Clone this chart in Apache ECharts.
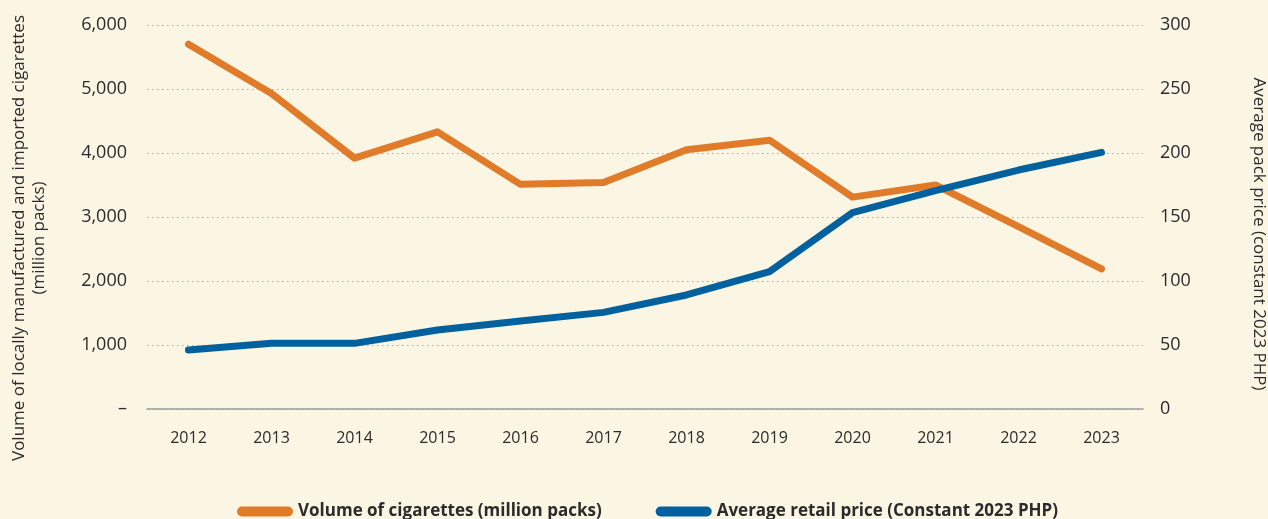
<!DOCTYPE html>
<html>
<head>
<meta charset="utf-8">
<script src="https://cdn.jsdelivr.net/npm/echarts@6/dist/echarts.min.js"></script>
<style>
  html, body { margin: 0; padding: 0; background: #FBF5E3; }
  #chart { width: 1268px; height: 519px; }
</style>
</head>
<body>
<div id="chart"></div>
<script>
// Years on the category axis
const years = ['2012', '2013', '2014', '2015', '2016', '2017', '2018', '2019', '2020', '2021', '2022', '2023'];
// Volume of locally manufactured and imported cigarettes (million packs)
const volume = [5700, 4930, 3920, 4330, 3510, 3540, 4050, 4200, 3310, 3500, 2850, 2190];
// Average retail pack price (constant 2023 PHP)
const price = [46.1, 51.3, 51.3, 61.7, 68.8, 75.5, 89.1, 107.3, 153.4, 170.6, 186.7, 200.5];

const volumeName = 'Volume of cigarettes (million packs)';
const priceName = 'Average retail price (Constant 2023 PHP)';
const leftTitle = 'Volume of locally manufactured and imported cigarettes\n(million packs)';
const rightTitle = 'Average pack price (constant 2023 PHP)';

const FONT = '"Open Sans", Lato, sans-serif';
const ORANGE = '#E07B2A';
const BLUE = '#00619E';
const TEXT = '#2b2b2b';
const pill = 'path://M5,0 H51 A5,5 0 0 1 51,10 H5 A5,5 0 0 1 5,0 Z';

const chart = echarts.init(document.getElementById('chart'), null, { renderer: 'canvas' });

chart.setOption({
  backgroundColor: '#FBF5E3',
  animation: false,
  textStyle: { fontFamily: FONT },
  grid: { left: 147, right: 125, top: 25, bottom: 110, containLabel: false },
  legend: {
    left: 232,
    top: 498,
    itemWidth: 56,
    itemHeight: 10,
    itemGap: 54,
    textStyle: { fontFamily: FONT, fontSize: 17, fontWeight: 'bold', color: TEXT },
    data: [
      { name: volumeName, icon: pill, itemStyle: { color: ORANGE } },
      { name: priceName, icon: pill, itemStyle: { color: BLUE } }
    ]
  },
  xAxis: {
    type: 'category',
    data: years,
    boundaryGap: true,
    axisLine: { show: true, lineStyle: { color: '#9a9a9a', width: 1.5 } },
    axisTick: { show: false },
    axisLabel: { color: TEXT, fontSize: 16, margin: 21, fontFamily: FONT }
  },
  yAxis: [
    {
      type: 'value',
      min: 0, max: 6000, interval: 1000,
      axisLine: { show: false },
      axisTick: { show: false },
      axisLabel: {
        color: TEXT, fontSize: 18, margin: 20, fontFamily: FONT,
        formatter: v => v === 0 ? '–' : v.toLocaleString('en-US')
      },
      splitLine: { show: true, lineStyle: { color: '#a8a8a8', type: [1.5, 3.5], width: 1 } }
    },
    {
      type: 'value',
      position: 'right',
      min: 0, max: 300, interval: 50,
      axisLine: { show: false },
      axisTick: { show: false },
      axisLabel: { color: TEXT, fontSize: 18, margin: 17, fontFamily: FONT },
      splitLine: { show: false }
    }
  ],
  graphic: [
    {
      type: 'text',
      x: 29, y: 238,
      rotation: Math.PI / 2,
      style: {
        text: leftTitle,
        fill: TEXT,
        font: '17px ' + FONT,
        align: 'center',
        verticalAlign: 'middle',
        lineHeight: 20
      }
    },
    {
      type: 'text',
      x: 1259, y: 234,
      rotation: -Math.PI / 2,
      style: {
        text: rightTitle,
        fill: TEXT,
        font: '17px ' + FONT,
        align: 'center',
        verticalAlign: 'middle'
      }
    }
  ],
  series: [
    {
      name: volumeName,
      type: 'line',
      yAxisIndex: 0,
      data: volume,
      symbol: 'none',
      color: ORANGE,
      lineStyle: { width: 7, color: ORANGE, cap: 'round', join: 'round' },
      z: 3
    },
    {
      name: priceName,
      type: 'line',
      yAxisIndex: 1,
      data: price,
      symbol: 'none',
      color: BLUE,
      lineStyle: { width: 7, color: BLUE, cap: 'round', join: 'round' },
      z: 4
    }
  ]
});
</script>
</body>
</html>
